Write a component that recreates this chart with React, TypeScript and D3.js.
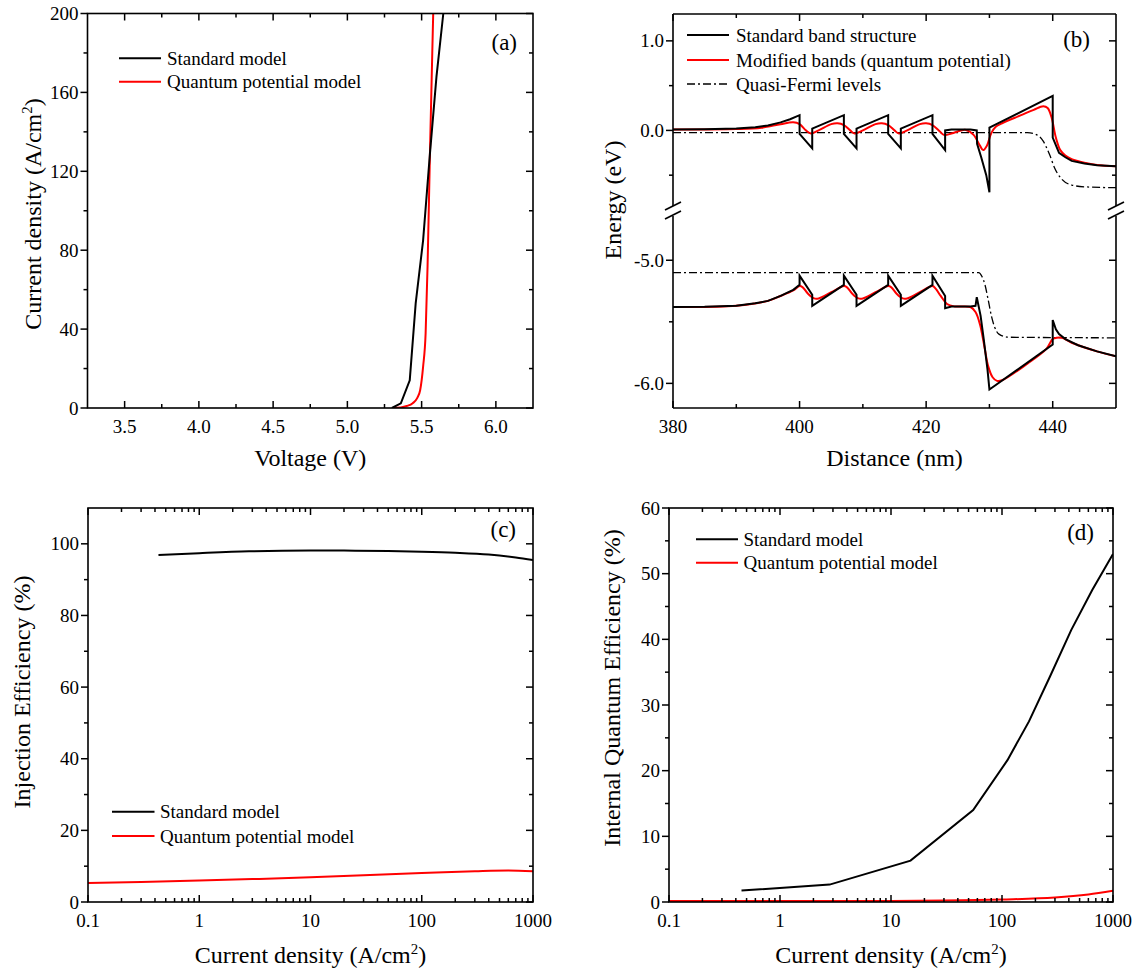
import React, { useEffect, useRef } from "react";
import * as d3 from "d3";

// ---------- Panel (a): J-V ----------
const voltageStd = [5.30, 5.36, 5.42, 5.46, 5.51, 5.556, 5.60, 5.646, 5.70];
const currentStd = [0, 2.4, 14, 53, 85, 129, 168, 200, 240];
const voltageQP = [5.30, 5.36, 5.40, 5.44, 5.47, 5.49, 5.51, 5.527, 5.54, 5.556, 5.578, 5.60];
const currentQP = [0, 0.3, 1, 2.4, 5, 9, 21, 38, 72, 129, 200, 270];
const aXTicks = [3.5, 4.0, 4.5, 5.0, 5.5, 6.0];
const aYTicks = [0, 40, 80, 120, 160, 200];

// ---------- Panel (b): band diagram ----------
const cbStdX = [380, 385, 390, 393, 395, 397, 398.5, 400, 400, 402, 402, 407, 407, 409, 409, 414, 414, 416, 416, 421, 421, 423, 423, 424, 427, 428, 428.05, 428.7, 429.5, 430, 430, 440, 440, 441, 442, 443, 445, 447, 450];
const cbStdE = [0.01, 0.012, 0.02, 0.035, 0.055, 0.09, 0.125, 0.17, -0.04, -0.2, 0.02, 0.17, -0.04, -0.2, 0.02, 0.17, -0.04, -0.2, 0.02, 0.17, -0.04, -0.22, 0.0, 0.01, 0.01, 0.0, -0.15, -0.3, -0.5, -0.69, 0.03, 0.385, -0.08, -0.25, -0.3, -0.34, -0.37, -0.39, -0.4];
const cbQPX = [380, 390, 394, 397, 399, 400, 401, 401.8, 403, 405, 406, 407, 408, 408.7, 410, 412, 413, 414, 415, 415.7, 417, 419, 420, 421, 422, 422.8, 424, 425.5, 426.3, 427.5, 428.5, 429, 429.6, 430.3, 431, 432, 435, 437, 438.5, 439.2, 439.8, 440.5, 441.2, 442, 443, 445, 447, 450];
const cbQPE = [0.01, 0.015, 0.03, 0.07, 0.09, 0.07, 0.0, -0.035, 0.0, 0.07, 0.08, 0.06, 0.0, -0.035, 0.0, 0.07, 0.08, 0.06, 0.0, -0.035, 0.0, 0.07, 0.08, 0.06, 0.0, -0.05, -0.035, 0.0, 0.005, -0.05, -0.17, -0.22, -0.17, -0.03, 0.04, 0.08, 0.17, 0.23, 0.27, 0.25, 0.15, -0.08, -0.22, -0.28, -0.32, -0.36, -0.385, -0.4];
const efnX = [380, 436, 437.5, 438.5, 439.5, 440.3, 441.5, 443, 445, 450];
const efnE = [-0.025, -0.025, -0.05, -0.12, -0.27, -0.42, -0.55, -0.61, -0.63, -0.64];
const vbStdX = [380, 385, 390, 393, 395, 397, 399, 400, 400, 402, 402, 407, 407, 409, 409, 414, 414, 416, 416, 421, 421, 423, 423, 424, 427, 427.8, 428, 428.6, 429.1, 429.7, 430, 440, 440, 440.5, 441, 442, 444, 447, 450];
const vbStdE = [-5.38, -5.378, -5.37, -5.35, -5.33, -5.29, -5.24, -5.2, -5.125, -5.28, -5.37, -5.2, -5.125, -5.28, -5.37, -5.2, -5.125, -5.28, -5.37, -5.2, -5.125, -5.29, -5.39, -5.375, -5.375, -5.37, -5.3, -5.45, -5.64, -5.89, -6.05, -5.685, -5.485, -5.56, -5.6, -5.64, -5.69, -5.74, -5.78];
const vbQPX = [380, 390, 395, 397, 399, 400, 400.5, 401.3, 402.3, 403, 405, 407, 407.5, 408.3, 409.3, 410, 412, 414, 414.5, 415.3, 416.3, 417, 419, 421, 421.5, 422.3, 423.3, 424.5, 427, 427.8, 428.5, 429.2, 429.8, 430.5, 431.2, 432, 436, 439, 440, 440.6, 441.5, 443, 447, 450];
const vbQPE = [-5.38, -5.37, -5.33, -5.29, -5.245, -5.21, -5.22, -5.27, -5.31, -5.31, -5.26, -5.21, -5.22, -5.27, -5.31, -5.31, -5.26, -5.21, -5.22, -5.27, -5.31, -5.31, -5.26, -5.21, -5.23, -5.29, -5.355, -5.375, -5.38, -5.42, -5.52, -5.7, -5.86, -5.95, -5.98, -5.975, -5.84, -5.72, -5.64, -5.63, -5.63, -5.67, -5.74, -5.78];
const efpX = [380, 428.3, 428.8, 429.3, 429.8, 430.3, 430.8, 431.5, 433, 450];
const efpE = [-5.1, -5.1, -5.13, -5.2, -5.32, -5.45, -5.54, -5.6, -5.625, -5.63];
const bXTicks = [380, 400, 420, 440];
const bYTicksUpper = [1.0, 0.0];
const bYTicksLower = [-5.0, -6.0];

// ---------- Panel (c): injection efficiency ----------
const injStdJ = [0.43, 1, 2.8, 10, 20, 50, 100, 200, 400, 700, 1000];
const injStdEff = [96.9, 97.4, 97.9, 98.1, 98.1, 98.0, 97.8, 97.5, 97.0, 96.2, 95.5];
const injQPJ = [0.1, 0.3, 1, 3, 10, 30, 100, 300, 600, 1000];
const injQPEff = [5.3, 5.6, 6.0, 6.4, 6.9, 7.5, 8.1, 8.6, 8.8, 8.6];
const cYTicks = [0, 20, 40, 60, 80, 100];

// ---------- Panel (d): IQE ----------
const iqeStdJ = [0.45, 2.8, 15, 55, 112, 175, 270, 420, 650, 1000];
const iqeStdEff = [1.75, 2.65, 6.3, 14.0, 21.6, 27.5, 34.3, 41.4, 47.5, 53.0];
const iqeQPJ = [0.1, 1, 10, 30, 100, 300, 600, 1000];
const iqeQPEff = [0.15, 0.15, 0.17, 0.22, 0.38, 0.68, 1.15, 1.7];
const dYTicks = [0, 10, 20, 30, 40, 50, 60];
const logTicks = [0.1, 1, 10, 100, 1000];

const FONT = "'Liberation Serif', 'Times New Roman', Times, serif";
const RED = "#ff0000";

type Sel = d3.Selection<SVGGElement, unknown, null, undefined>;

function zip(xs: number[], ys: number[]): [number, number][] {
  return xs.map((x, i) => [x, ys[i]]);
}

function text(g: Sel, x: number, y: number, s: string, size: number, anchor = "start") {
  return g.append("text").attr("x", x).attr("y", y).attr("font-size", size)
    .attr("font-family", FONT).attr("text-anchor", anchor).attr("fill", "#000").text(s);
}

function ticks(g: Sel, side: string, pos: number[], len: number, L: number, R: number, T: number, B: number) {
  pos.forEach((p) => {
    let x1 = 0, y1 = 0, x2 = 0, y2 = 0;
    if (side === "bottom") { x1 = x2 = p; y1 = B; y2 = B - len; }
    if (side === "top") { x1 = x2 = p; y1 = T; y2 = T + len; }
    if (side === "left") { y1 = y2 = p; x1 = L; x2 = L - len; }
    if (side === "right") { y1 = y2 = p; x1 = R; x2 = R - len; }
    g.append("line").attr("x1", x1).attr("y1", y1).attr("x2", x2).attr("y2", y2)
      .attr("stroke", "#000").attr("stroke-width", 1.5);
  });
}

function allTicks(g: Sel, xMaj: number[], xMin: number[], yMaj: number[], yMin: number[], L: number, R: number, T: number, B: number) {
  ticks(g, "bottom", xMaj, 7, L, R, T, B);
  ticks(g, "top", xMaj, 7, L, R, T, B);
  ticks(g, "bottom", xMin, 4, L, R, T, B);
  ticks(g, "top", xMin, 4, L, R, T, B);
  ticks(g, "left", yMaj, 7, L, R, T, B);
  ticks(g, "right", yMaj, 7, L, R, T, B);
  ticks(g, "left", yMin, 4, L, R, T, B);
  ticks(g, "right", yMin, 4, L, R, T, B);
}

function titleWithSup(g: Sel, x: number, y: number, before: string, sup: string, after: string, size: number, rotate = false) {
  const t = g.append("text").attr("font-family", FONT).attr("font-size", size).attr("text-anchor", "middle").attr("fill", "#000");
  if (rotate) t.attr("transform", `translate(${x},${y}) rotate(-90)`);
  else t.attr("x", x).attr("y", y);
  t.append("tspan").text(before);
  t.append("tspan").attr("dy", -9).attr("font-size", size * 0.62).text(sup);
  t.append("tspan").attr("dy", 9).text(after);
}

function rotTitle(g: Sel, x: number, y: number, s: string, size: number) {
  g.append("text").attr("font-family", FONT).attr("font-size", size).attr("text-anchor", "middle")
    .attr("transform", `translate(${x},${y}) rotate(-90)`).attr("fill", "#000").text(s);
}

function legend(g: Sel, x1: number, x2: number, tx: number, rows: { y: number; color: string; label: string; dash?: string; w?: number }[]) {
  rows.forEach((r) => {
    g.append("line").attr("x1", x1).attr("x2", x2).attr("y1", r.y).attr("y2", r.y)
      .attr("stroke", r.color).attr("stroke-width", r.w ?? 2).attr("stroke-dasharray", r.dash ?? null);
    text(g, tx, r.y + 6.5, r.label, 19);
  });
}

export default function App() {
  const ref = useRef<SVGSVGElement>(null);
  useEffect(() => {
    const svg = d3.select(ref.current);
    svg.selectAll("*").remove();
    const root = svg.append("g") as unknown as Sel;
    const defs = svg.append("defs");
    const clip = (id: string, x: number, y: number, w: number, h: number) => {
      defs.append("clipPath").attr("id", id).append("rect").attr("x", x).attr("y", y).attr("width", w).attr("height", h);
      return `url(#${id})`;
    };

    // ================= Panel (a) =================
    {
      const L = 87.5, R = 533, T = 13.5, B = 408;
      const x = d3.scaleLinear().domain([3.25, 6.25]).range([L, R]);
      const y = d3.scaleLinear().domain([0, 200]).range([B, T]);
      const g = root.append("g") as unknown as Sel;
      const cp = clip("clipA", L, T, R - L, B - T);
      const lineLin = d3.line<[number, number]>().x((d) => x(d[0])).y((d) => y(d[1]));
      const lineSm = d3.line<[number, number]>().x((d) => x(d[0])).y((d) => y(d[1])).curve(d3.curveMonotoneX);
      g.append("path").attr("d", lineSm(zip(voltageQP, currentQP))).attr("fill", "none").attr("stroke", RED).attr("stroke-width", 2).attr("clip-path", cp);
      g.append("path").attr("d", lineLin(zip(voltageStd, currentStd))).attr("fill", "none").attr("stroke", "#000").attr("stroke-width", 2).attr("clip-path", cp);
      g.append("rect").attr("x", L).attr("y", T).attr("width", R - L).attr("height", B - T).attr("fill", "none").attr("stroke", "#000").attr("stroke-width", 1.6);
      const xMin = [3.75, 4.25, 4.75, 5.25, 5.75].map(x);
      const yMin = [20, 60, 100, 140, 180].map(y);
      allTicks(g, aXTicks.map(x), xMin, aYTicks.map(y), yMin, L, R, T, B);
      aXTicks.forEach((v) => text(g, x(v), B + 25, v.toFixed(1), 19, "middle"));
      aYTicks.forEach((v) => text(g, L - 9, y(v) + 6.5, String(v), 19, "end"));
      text(g, (L + R) / 2, 466, "Voltage (V)", 24, "middle");
      titleWithSup(g, 41, 214, "Current density (A/cm", "2", ")", 24, true);
      text(g, 517, 50, "(a)", 23, "end");
      legend(g, 119, 161, 167, [
        { y: 58.3, color: "#000", label: "Standard model" },
        { y: 81.7, color: RED, label: "Quantum potential model" },
      ]);
    }

    // ================= Panel (b) =================
    {
      const L = 673, R = 1116, T = 14, B = 408, M = 211;
      const x = d3.scaleLinear().domain([380, 450]).range([L, R]);
      const yU = d3.scaleLinear().domain([-0.9, 1.3]).range([M, T]);
      const yL = d3.scaleLinear().domain([-6.2, -4.6]).range([B, M]);
      const g = root.append("g") as unknown as Sel;
      const cpU = clip("clipBU", L, T, R - L, M - T);
      const cpL = clip("clipBL", L, M, R - L, B - M);
      const mk = (ys: d3.ScaleLinear<number, number>, curve: d3.CurveFactory) =>
        d3.line<[number, number]>().x((d) => x(d[0])).y((d) => ys(d[1])).curve(curve);
      const smooth = d3.curveCatmullRom.alpha(0.5);
      // upper
      g.append("path").attr("d", mk(yU, d3.curveMonotoneX)(zip(efnX, efnE))).attr("fill", "none").attr("stroke", "#000").attr("stroke-width", 1.3).attr("stroke-dasharray", "8,3,2,3").attr("clip-path", cpU);
      g.append("path").attr("d", mk(yU, smooth)(zip(cbQPX, cbQPE))).attr("fill", "none").attr("stroke", RED).attr("stroke-width", 2).attr("clip-path", cpU);
      g.append("path").attr("d", mk(yU, d3.curveLinear)(zip(cbStdX, cbStdE))).attr("fill", "none").attr("stroke", "#000").attr("stroke-width", 2).attr("clip-path", cpU);
      // lower
      g.append("path").attr("d", mk(yL, d3.curveMonotoneX)(zip(efpX, efpE))).attr("fill", "none").attr("stroke", "#000").attr("stroke-width", 1.3).attr("stroke-dasharray", "8,3,2,3").attr("clip-path", cpL);
      g.append("path").attr("d", mk(yL, smooth)(zip(vbQPX, vbQPE))).attr("fill", "none").attr("stroke", RED).attr("stroke-width", 2).attr("clip-path", cpL);
      g.append("path").attr("d", mk(yL, d3.curveLinear)(zip(vbStdX, vbStdE))).attr("fill", "none").attr("stroke", "#000").attr("stroke-width", 2).attr("clip-path", cpL);
      // frame with break
      const gap = 5;
      const fl = (x1: number, y1: number, x2: number, y2: number) =>
        g.append("line").attr("x1", x1).attr("y1", y1).attr("x2", x2).attr("y2", y2).attr("stroke", "#000").attr("stroke-width", 1.6);
      fl(L, T, R, T); fl(L, B, R, B);
      fl(L, T, L, M - gap); fl(L, M + gap, L, B);
      fl(R, T, R, M - gap); fl(R, M + gap, R, B);
      [L, R].forEach((ax) => {
        fl(ax - 8, M - 1, ax + 8, M - 9);
        fl(ax - 8, M + 8, ax + 8, M);
      });
      const xMin = [390, 410, 430].map(x);
      const yMaj = [...bYTicksUpper.map(yU), ...bYTicksLower.map(yL)];
      const yMin = [yU(0.5), yU(-0.5), yL(-5.5)];
      allTicks(g, bXTicks.map(x), xMin, yMaj, yMin, L, R, T, B);
      bXTicks.forEach((v) => text(g, x(v), B + 25, String(v), 19, "middle"));
      bYTicksUpper.forEach((v) => text(g, L - 9, yU(v) + 6.5, v.toFixed(1), 19, "end"));
      bYTicksLower.forEach((v) => text(g, L - 9, yL(v) + 6.5, v.toFixed(1), 19, "end"));
      text(g, (L + R) / 2, 466, "Distance (nm)", 24, "middle");
      rotTitle(g, 621, 200, "Energy (eV)", 24);
      text(g, 1090, 47, "(b)", 23, "end");
      legend(g, 687, 729, 736, [
        { y: 35, color: "#000", label: "Standard band structure" },
        { y: 60, color: RED, label: "Modified bands (quantum potential)" },
        { y: 84, color: "#000", label: "Quasi-Fermi levels", dash: "8,3,2,3", w: 1.3 },
      ]);
    }

    // ================= Panels (c) and (d) =================
    const logPanel = (
      L: number, R: number, T: number, B: number, yMax: number, yMaj: number[], yMinV: number[],
      stdJ: number[], stdE: number[], qpJ: number[], qpE: number[], id: string, stdCurve: d3.CurveFactory
    ) => {
      const x = d3.scaleLog().domain([0.1, 1000]).range([L, R]);
      const y = d3.scaleLinear().domain([0, yMax]).range([B, T]);
      const g = root.append("g") as unknown as Sel;
      const cp = clip(id, L, T, R - L, B - T);
      const ln = d3.line<[number, number]>().x((d) => x(d[0])).y((d) => y(d[1])).curve(d3.curveMonotoneX);
      const lnStd = d3.line<[number, number]>().x((d) => x(d[0])).y((d) => y(d[1])).curve(stdCurve);
      g.append("path").attr("d", ln(zip(qpJ, qpE))).attr("fill", "none").attr("stroke", RED).attr("stroke-width", 2).attr("clip-path", cp);
      g.append("path").attr("d", lnStd(zip(stdJ, stdE))).attr("fill", "none").attr("stroke", "#000").attr("stroke-width", 2).attr("clip-path", cp);
      g.append("rect").attr("x", L).attr("y", T).attr("width", R - L).attr("height", B - T).attr("fill", "none").attr("stroke", "#000").attr("stroke-width", 1.6);
      const minors: number[] = [];
      [0.1, 1, 10, 100].forEach((d) => { for (let k = 2; k <= 9; k++) minors.push(d * k); });
      allTicks(g, logTicks.map(x), minors.map(x), yMaj.map(y), yMinV.map(y), L, R, T, B);
      logTicks.forEach((v) => text(g, x(v), B + 25, String(v), 19, "middle"));
      yMaj.forEach((v) => text(g, L - 9, y(v) + 6.5, String(v), 19, "end"));
      titleWithSup(g, (L + R) / 2, 963, "Current density (A/cm", "2", ")", 24);
      return g;
    };

    {
      const g = logPanel(88, 533, 508, 902, 110, cYTicks, [10, 30, 50, 70, 90], injStdJ, injStdEff, injQPJ, injQPEff, "clipC", d3.curveMonotoneX);
      rotTitle(g, 30, 692, "Injection Efficiency (%)", 24);
      text(g, 516, 537, "(c)", 23, "end");
      legend(g, 112, 154.5, 160, [
        { y: 811.7, color: "#000", label: "Standard model" },
        { y: 836, color: RED, label: "Quantum potential model" },
      ]);
    }
    {
      const g = logPanel(669, 1113, 508, 902, 60, dYTicks, [5, 15, 25, 35, 45, 55], iqeStdJ, iqeStdEff, iqeQPJ, iqeQPEff, "clipD", d3.curveLinear);
      rotTitle(g, 620, 688, "Internal Quantum Efficiency (%)", 24);
      text(g, 1094, 540, "(d)", 23, "end");
      legend(g, 696, 738, 743.5, [
        { y: 539.3, color: "#000", label: "Standard model" },
        { y: 562.7, color: RED, label: "Quantum potential model" },
      ]);
    }
  }, []);
  return (
    <div style={{ position: "absolute", left: 0, top: 0 }}>
      <svg ref={ref} width={1146} height={974} style={{ display: "block", background: "#fff" }} />
    </div>
  );
}
